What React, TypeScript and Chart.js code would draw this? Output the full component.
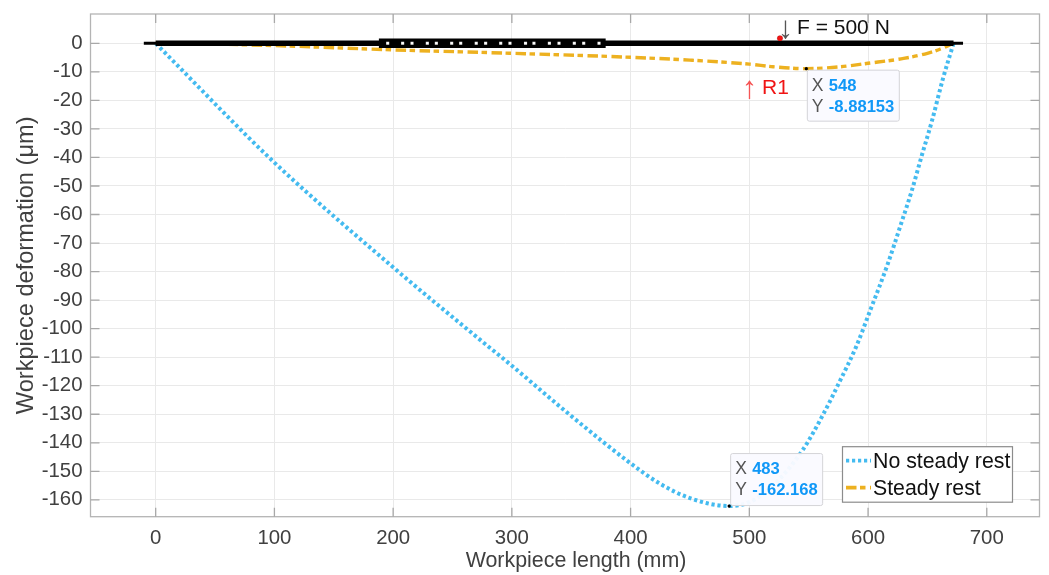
import React, { useEffect, useRef } from "react";
import { Chart, registerables } from "chart.js";

Chart.register(...registerables);

const FONT = "'Liberation Sans', Arial, sans-serif";

const xTickValues = [0, 100, 200, 300, 400, 500, 600, 700];
const yTickValues = [0, -10, -20, -30, -40, -50, -60, -70, -80, -90, -100, -110, -120, -130, -140, -150, -160];

const noRestX = [0, 100, 200, 270, 300, 350, 400, 425, 450, 483, 500, 520, 545, 562, 576, 590, 602, 616, 628, 637, 645, 654, 663, 672];
const noRestY = [0, -41.8, -78.5, -102.8, -113, -130.6, -147.2, -154.4, -159.4, -162.168, -160.8, -155, -142.5, -130.2, -118.6, -106.3, -93.4, -78, -63, -51.4, -39.7, -26.9, -12.5, 0];

const restX = [0, 50, 100, 200, 300, 400, 450, 500, 520, 548, 575, 600, 630, 650, 661, 672];
const restY = [0, -0.3, -0.8, -2.3, -3.5, -4.9, -5.9, -7.3, -8.2, -8.88153, -8.3, -7, -5.3, -3.5, -2, 0];

const beamThinX = [-10, 680];
const beamX = [0, 672];
const chuckX = [188, 379];
const boltX = [195.4, 208, 215.9, 228.8, 236.4, 249.3, 256.9, 270, 277.9, 290.6, 298.4, 311.5, 318.6, 331.6, 339.7, 352.6, 360.5, 373.4];
const forcePoint = { x: 525.8, y: 1.75 };

const seriesNames = ["No steady rest", "Steady rest"];
const arrowDown = "↓";
const arrowUp = "↑";
const forceLabel = "F = 500 N";
const restLabel = "R1";
const xTitle = "Workpiece length (mm)";
const yTitle = "Workpiece deformation (μm)";
const tips = [
  { x: 548, y: -8.88153, text: "-8.88153", w: 92, h: 51, dx: 1, dy: 1.5 },
  { x: 483, y: -162.168, text: "-162.168", w: 92, h: 52, dx: 1.5, dy: -52.5 },
];

const BLUE = "#44BBF0";
const ORANGE = "#EDB120";
const pairs = (xs: number[], ys: number[]) => xs.map((x, i) => ({ x, y: ys[i] }));
const flat = (xs: number[]) => xs.map((x) => ({ x, y: 0 }));

const overlay = {
  id: "overlay",
  afterDatasetsDraw(chart: any) {
    const c = chart.ctx;
    const { left, right, top, bottom } = chart.chartArea;
    const sx = chart.scales.x;
    const sy = chart.scales.y;
    c.save();
    c.strokeStyle = "#b4b4b4";
    c.lineWidth = 1.3;
    c.strokeRect(left, top, right - left, bottom - top);
    c.strokeStyle = "#a8a8a8";
    c.beginPath();
    xTickValues.forEach((v) => {
      const p = sx.getPixelForValue(v);
      c.moveTo(p, bottom); c.lineTo(p, bottom - 9);
      c.moveTo(p, top); c.lineTo(p, top + 9);
    });
    yTickValues.forEach((v) => {
      const p = sy.getPixelForValue(v);
      c.moveTo(left, p); c.lineTo(left + 9, p);
      c.moveTo(right, p); c.lineTo(right - 9, p);
    });
    c.stroke();

    c.textBaseline = "middle";
    c.textAlign = "left";
    c.font = `21px ${FONT}`;
    c.fillStyle = "#111";
    c.fillText(forceLabel, 797, 28);
    c.fillStyle = "#f01414";
    c.fillText(restLabel, 762, 88);
    c.font = `31px ${FONT}`;
    c.textAlign = "center";
    c.fillStyle = "#555";
    c.fillText(arrowDown, 785.5, 29);
    c.fillStyle = "#f55555";
    c.fillText(arrowUp, 749.5, 89);

    c.font = `21.4px ${FONT}`;
    c.fillStyle = "#404040";
    c.textAlign = "center";
    c.fillText(xTitle, 576, 561);

    tips.forEach((t) => {
      const px = sx.getPixelForValue(t.x) + t.dx;
      const py = sy.getPixelForValue(t.y) + t.dy;
      c.fillStyle = "rgba(250,250,255,0.96)";
      c.strokeStyle = "#d4d4d8";
      c.lineWidth = 1;
      c.beginPath();
      c.roundRect(px, py, t.w, t.h, 2);
      c.fill();
      c.stroke();
      c.textAlign = "left";
      c.font = `17.5px ${FONT}`;
      c.fillStyle = "#555";
      c.fillText("X", px + 4.5, py + 16);
      c.fillText("Y", px + 4.5, py + 37);
      c.font = `bold 16.6px ${FONT}`;
      c.fillStyle = "#1098f7";
      c.fillText(String(t.x), px + 21.5, py + 16);
      c.fillText(t.text, px + 21.5, py + 37);
    });

    const lx = 842.5, ly = 446.7, lw = 170, lh = 55.5;
    c.fillStyle = "#fff";
    c.strokeStyle = "#8c8c8c";
    c.lineWidth = 1.2;
    c.fillRect(lx, ly, lw, lh);
    c.strokeRect(lx, ly, lw, lh);
    c.lineWidth = 3.8;
    c.strokeStyle = BLUE;
    c.setLineDash([3.2, 2.8]);
    c.beginPath(); c.moveTo(846, 460.7); c.lineTo(871, 460.7); c.stroke();
    c.strokeStyle = ORANGE;
    c.setLineDash([10.5, 3.5, 5.5, 4.5]);
    c.beginPath(); c.moveTo(846, 487.7); c.lineTo(871, 487.7); c.stroke();
    c.setLineDash([]);
    c.font = `21.3px ${FONT}`;
    c.fillStyle = "#111";
    c.fillText(seriesNames[0], 873, 462);
    c.fillText(seriesNames[1], 873, 489);
    c.restore();
  },
};

export default function App() {
  const ref = useRef<HTMLCanvasElement>(null);
  useEffect(() => {
    const chart = new Chart(ref.current as HTMLCanvasElement, {
      type: "scatter",
      data: {
        datasets: [
          { label: "Tip points", data: tips.map((t) => ({ x: t.x, y: t.y })), backgroundColor: "#000", pointRadius: 1.6, showLine: false, order: 0 },
          { label: "Force point", data: [forcePoint], backgroundColor: "#f01414", pointRadius: 2.8, showLine: false, order: 1 },
          { label: "Bolts", data: flat(boltX), backgroundColor: "#fff", pointStyle: "rect", pointRadius: 2.2, showLine: false, order: 2 },
          { label: "Chuck", data: flat(chuckX), borderColor: "#000", borderWidth: 9.5, showLine: true, pointRadius: 0, order: 3 },
          { label: "Beam", data: flat(beamX), borderColor: "#000", borderWidth: 5.5, showLine: true, pointRadius: 0, order: 4 },
          { label: "Beam axis", data: flat(beamThinX), borderColor: "#000", borderWidth: 3, showLine: true, pointRadius: 0, order: 5 },
          { label: seriesNames[1], data: pairs(restX, restY), borderColor: ORANGE, borderWidth: 3.4, borderDash: [10.5, 3.5, 5.5, 4.5], showLine: true, pointRadius: 0, cubicInterpolationMode: "monotone", order: 6 },
          { label: seriesNames[0], data: pairs(noRestX, noRestY), borderColor: BLUE, borderWidth: 4, borderDash: [3.2, 2.8], showLine: true, pointRadius: 0, cubicInterpolationMode: "monotone", order: 7 },
        ] as any,
      },
      options: {
        animation: false,
        responsive: false,
        layout: { autoPadding: false, padding: { top: 14, right: 9.5, left: 0, bottom: 0 } },
        plugins: { legend: { display: false }, tooltip: { enabled: false } },
        scales: {
          x: {
            type: "linear",
            min: -54.9,
            max: 744.4,
            afterBuildTicks: (s: any) => { s.ticks = xTickValues.map((value) => ({ value })); },
            afterFit: (s: any) => { s.height = 58.3; s.paddingLeft = 0; s.paddingRight = 0; s.paddingTop = 0; s.paddingBottom = 0; },
            grid: { color: "#e9e9e9", lineWidth: 1, drawTicks: false },
            border: { display: false },
            ticks: { color: "#404040", font: { family: FONT, size: 20.4 }, padding: 9, maxRotation: 0, autoSkip: false, callback: (v: any) => String(v) },
          },
          y: {
            type: "linear",
            min: -165.9,
            max: 10.27,
            afterBuildTicks: (s: any) => { s.ticks = yTickValues.map((value) => ({ value })); },
            afterFit: (s: any) => { s.width = 90.5; s.paddingLeft = 0; s.paddingRight = 0; s.paddingTop = 0; s.paddingBottom = 0; },
            grid: { color: "#e9e9e9", lineWidth: 1, drawTicks: false },
            border: { display: false },
            title: { display: true, text: yTitle, color: "#404040", font: { family: FONT, size: 23.6 }, padding: { top: 12, bottom: 0 } },
            ticks: { color: "#404040", font: { family: FONT, size: 20.4 }, padding: 8, autoSkip: false, callback: (v: any) => String(v) },
          },
        },
      },
      plugins: [overlay],
    });
    return () => chart.destroy();
  }, []);
  return (
    <canvas
      ref={ref}
      width={1049}
      height={575}
      style={{ position: "absolute", left: 0, top: 0, width: 1049, height: 575, background: "#fff", filter: "blur(0.4px)" }}
    />
  );
}
